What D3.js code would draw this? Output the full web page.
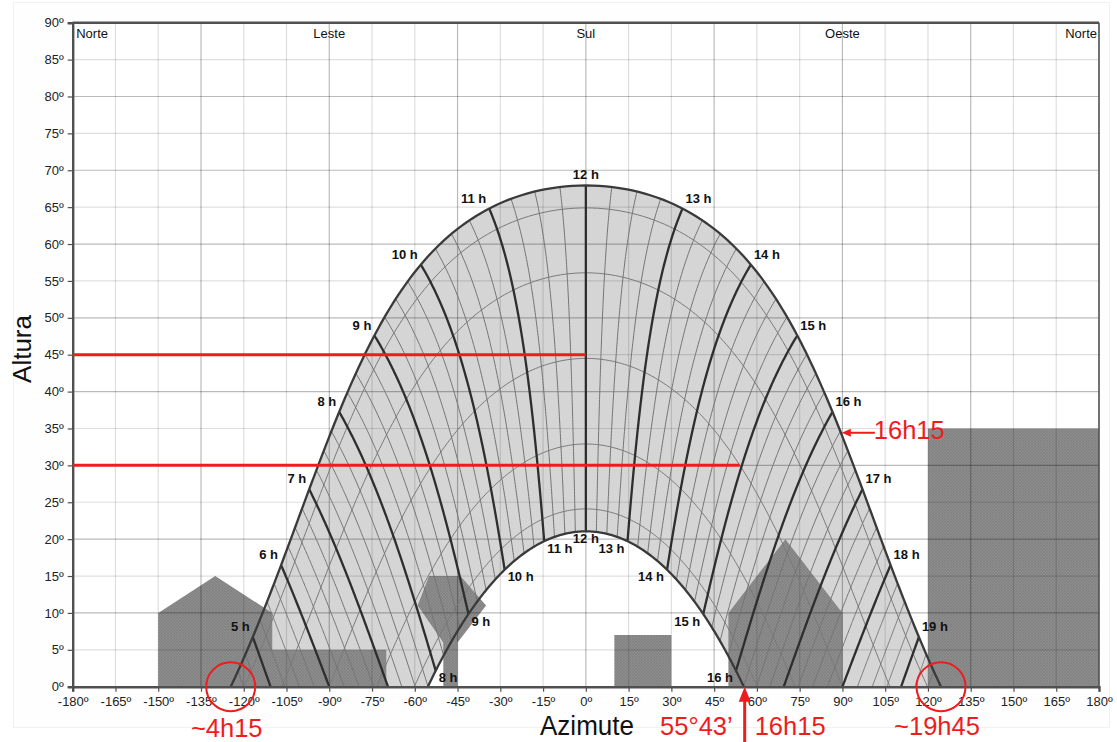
<!DOCTYPE html>
<html>
<head>
<meta charset="utf-8">
<script src="https://cdn.jsdelivr.net/npm/d3@7"></script>
<style>
  body { margin: 0; background: #fff; }
  svg { display: block; font-family: "Liberation Sans", Arial, sans-serif; }
</style>
</head>
<body>
<svg id="chart" width="1117" height="742"></svg>
<script>
// Site latitude, degrees north
const latitude = 45.5;
// Solar declination on the 21st of each month: Jun, May/Jul, Apr/Aug, Mar/Sep, Feb/Oct, Jan/Nov, Dec
const declinations = [23.44, 20.4, 11.6, 0, -11.6, -20.4, -23.44];
const summerDecl = 23.44, winterDecl = -23.44;
// Whole solar hours (heavy lines) and quarter-hour subdivisions (light lines)
const wholeHours = [5, 6, 7, 8, 9, 10, 11, 12, 13, 14, 15, 16, 17, 18, 19];
const quarterBaseHours = [4, 5, 6, 7, 8, 9, 10, 11, 12, 13, 14, 15, 16, 17, 18, 19];
const quarterMinutes = [15, 30, 45];
// Hour labels on the summer (outer) and winter (inner) curves
const outerHourLabels = [5, 6, 7, 8, 9, 10, 11, 12, 13, 14, 15, 16, 17, 18, 19];
const innerHourLabels = [8, 9, 10, 11, 12, 13, 14, 15, 16];
// Axis ticks
const altitudeTicks = [0, 5, 10, 15, 20, 25, 30, 35, 40, 45, 50, 55, 60, 65, 70, 75, 80, 85, 90];
const azimuthTicks = [-180, -165, -150, -135, -120, -105, -90, -75, -60, -45, -30, -15, 0, 15, 30, 45, 60, 75, 90, 105, 120, 135, 150, 165, 180];
// Cardinal directions along the top edge
const directionNames = ["Norte", "Leste", "Sul", "Oeste", "Norte"];
const directionAzimuths = [-180, -90, 0, 90, 180];
// Obstructions on the horizon, [azimuth, altitude] outlines
const houseWest = [[-150, 0], [-150, 10], [-130, 15], [-110, 10], [-110, 5], [-70, 5], [-70, 0]];
const treeEast = [[-55, 15], [-44, 15], [-35, 11], [-45, 6], [-45, 0], [-50, 0], [-50, 6], [-59, 11]];
const lowWall = [[10, 0], [10, 7], [30, 7], [30, 0]];
const houseEast = [[50, 0], [50, 10], [70, 20], [90, 10], [90, 0]];
const blockNorth = [[120, 0], [120, 35], [180, 35], [180, 0]];
const obstacles = [houseWest, treeEast, lowWall, houseEast, blockNorth];
// Reference altitudes marked in red: [altitude, azimuth where the line stops]
const redAltitudes = [45, 30];
const redStopAzimuths = [0, 54];
// Annotated events
const sunsetWinterAzimuth = 55 + 43 / 60;   // 55°43'
const annotatedSummerTime = 16.25;          // 16h15 on the summer curve

const svg = d3.select("#chart");
const x = d3.scaleLinear().domain([-180, 180]).range([72.7, 1099]);
const y = d3.scaleLinear().domain([0, 90]).range([686.7, 22.7]);
const rad = Math.PI / 180, deg = 180 / Math.PI;
const phi = latitude * rad;

// Solar position (azimuth from south, west positive; altitude) for an hour angle and declination
function sunPos(hourAngle, decl) {
  const H = hourAngle * rad, d = decl * rad;
  const sinAlt = Math.sin(phi) * Math.sin(d) + Math.cos(phi) * Math.cos(d) * Math.cos(H);
  const alt = Math.asin(Math.max(-1, Math.min(1, sinAlt))) * deg;
  const az = Math.atan2(Math.sin(H), Math.cos(H) * Math.sin(phi) - Math.tan(d) * Math.cos(phi)) * deg;
  return [az, Math.max(0, alt)];
}
const hourAngle = t => (t - 12) * 15;

// Path of the sun across the sky for one declination
function dayCurve(decl) {
  const H0 = Math.acos(-Math.tan(phi) * Math.tan(decl * rad)) * deg;
  const n = 240, pts = [];
  for (let i = 0; i <= n; i++) pts.push(sunPos(-H0 + 2 * H0 * i / n, decl));
  return pts;
}
// Hour line: same solar time across the year, limited to the sky above the horizon
function hourCurve(t) {
  const H = hourAngle(t);
  const d0 = Math.atan(-Math.cos(H * rad) / Math.tan(phi)) * deg;
  const lo = Math.max(winterDecl, d0);
  if (lo >= summerDecl) return null;
  const n = 120, pts = [];
  for (let i = 0; i <= n; i++) pts.push(sunPos(H, lo + (summerDecl - lo) * i / n));
  return pts;
}

const line = d3.line().x(d => x(d[0])).y(d => y(d[1]));
const red = "#ee1c1c";

// Frame around the figure
svg.append("rect").attr("x", 13.5).attr("y", 2.5).attr("width", 1096).attr("height", 725)
  .attr("fill", "#fefefe").attr("stroke", "#f1f1f1");
svg.append("rect").attr("x", x(-180)).attr("y", y(90)).attr("width", x(180) - x(-180)).attr("height", y(0) - y(90))
  .attr("fill", "#fff");

// Pattern for obstructions
const defs = svg.append("defs");
const pat = defs.append("pattern").attr("id", "hatch").attr("patternUnits", "userSpaceOnUse")
  .attr("width", 3).attr("height", 3);
pat.append("rect").attr("width", 3).attr("height", 3).attr("fill", "#8d8d8d");
pat.append("path").attr("d", "M0,0L3,3M3,0L0,3").attr("stroke", "#7e7e7e").attr("stroke-width", 0.6);

// Band of the sky swept by the sun over the year
const summer = dayCurve(summerDecl), winter = dayCurve(winterDecl);
svg.append("path").attr("d", line(summer.concat(winter.slice().reverse())) + "Z")
  .attr("fill", "#d5d5d5");

// Obstructions
svg.append("g").selectAll("path").data(obstacles).join("path")
  .attr("d", d => line(d) + "Z").attr("fill", "url(#hatch)");

// Grid
const grid = svg.append("g");
grid.selectAll(".h").data(altitudeTicks.filter(a => a > 0 && a < 90)).join("line")
  .attr("x1", x(-180)).attr("x2", x(180)).attr("y1", d => y(d)).attr("y2", d => y(d))
  .attr("stroke", d => d % 10 === 0 ? "rgba(0,0,0,0.27)" : "rgba(0,0,0,0.13)").attr("stroke-width", 1.2);
grid.selectAll(".v").data(azimuthTicks.filter(a => a > -180 && a < 180)).join("line")
  .attr("y1", y(0)).attr("y2", y(90)).attr("x1", d => x(d)).attr("x2", d => x(d))
  .attr("stroke", d => d % 45 === 0 ? "rgba(0,0,0,0.27)" : "rgba(0,0,0,0.13)").attr("stroke-width", 1.2);

// Intermediate day curves
const dayG = svg.append("g").attr("fill", "none");
dayG.selectAll("path").data(declinations.filter(d => Math.abs(d) < summerDecl)).join("path")
  .attr("d", d => line(dayCurve(d))).attr("stroke", "#7a7a7a").attr("stroke-width", 1);

// Quarter-hour lines
const quarterTimes = [];
quarterBaseHours.forEach(h => quarterMinutes.forEach(m => quarterTimes.push(h + m / 60)));
const hourG = svg.append("g").attr("fill", "none");
hourG.selectAll(".q").data(quarterTimes.map(hourCurve).filter(Boolean)).join("path")
  .attr("d", line).attr("stroke", "#747474").attr("stroke-width", 1);
// Whole-hour lines
hourG.selectAll(".w").data(wholeHours.map(hourCurve).filter(Boolean)).join("path")
  .attr("d", line).attr("stroke", "#2e2e2e").attr("stroke-width", 2.3);

// Solstice curves
svg.append("path").attr("d", line(summer)).attr("fill", "none").attr("stroke", "#3a3a3a").attr("stroke-width", 2.3);
svg.append("path").attr("d", line(winter)).attr("fill", "none").attr("stroke", "#3a3a3a").attr("stroke-width", 2.3);

// Hour labels
const labG = svg.append("g").attr("font-size", 13).attr("font-weight", "bold").attr("fill", "#111");
labG.selectAll(".o").data(outerHourLabels).join("text")
  .each(function (t) {
    const p = sunPos(hourAngle(t), summerDecl);
    const px = x(p[0]), py = y(p[1]);
    d3.select(this)
      .attr("x", t < 12 ? px - 3 : t > 12 ? px + 3 : px)
      .attr("y", py - 6)
      .attr("text-anchor", t < 12 ? "end" : t > 12 ? "start" : "middle")
      .text(t + " h");
  });
labG.selectAll(".i").data(innerHourLabels).join("text")
  .each(function (t) {
    const p = sunPos(hourAngle(t), winterDecl);
    const px = x(p[0]), py = y(p[1]);
    d3.select(this)
      .attr("x", t < 12 ? px + 3 : t > 12 ? px - 3 : px)
      .attr("y", py + 11.5)
      .attr("text-anchor", t < 12 ? "start" : t > 12 ? "end" : "middle")
      .text(t + " h");
  });

// Frame lines and axes
const axisG = svg.append("g");
axisG.append("line").attr("x1", x(-180)).attr("x2", x(180)).attr("y1", y(90)).attr("y2", y(90))
  .attr("stroke", "#505050").attr("stroke-width", 2.5);
axisG.append("line").attr("x1", x(180)).attr("x2", x(180)).attr("y1", y(90)).attr("y2", y(0))
  .attr("stroke", "#505050").attr("stroke-width", 1.6);

const yAxis = d3.axisLeft(y).tickValues(altitudeTicks).tickFormat(d => d + "º").tickSize(5).tickPadding(4);
const yg = svg.append("g").attr("transform", `translate(${x(-180)},0)`).call(yAxis);
const xAxis = d3.axisBottom(x).tickValues(azimuthTicks).tickFormat(d => d + "º").tickSize(5).tickPadding(5);
const xg = svg.append("g").attr("transform", `translate(0,${y(0)})`).call(xAxis);
[yg, xg].forEach(g => {
  g.select(".domain").attr("stroke", "#505050").attr("stroke-width", 2.4);
  g.selectAll(".tick line").attr("stroke", "#505050").attr("stroke-width", 1.2);
  g.selectAll(".tick text").attr("fill", "#222").attr("font-size", 13)
    .attr("font-family", "'Liberation Sans', Arial, sans-serif");
});

// Cardinal directions
svg.append("g").attr("font-size", 13).attr("fill", "#111").selectAll("text")
  .data(directionNames).join("text")
  .attr("x", (d, i) => i === 0 ? x(directionAzimuths[i]) + 3.5 : i === 4 ? x(directionAzimuths[i]) - 2 : x(directionAzimuths[i]))
  .attr("y", 38)
  .attr("text-anchor", (d, i) => i === 0 ? "start" : i === 4 ? "end" : "middle")
  .text(d => d);

// Axis titles
svg.append("text").attr("transform", "translate(31,349) rotate(-90)").attr("text-anchor", "middle")
  .attr("font-size", 26).attr("fill", "#111").text("Altura");
svg.append("text").attr("x", 587).attr("y", 735).attr("text-anchor", "middle")
  .attr("font-size", 27).attr("textLength", 94).attr("lengthAdjust", "spacingAndGlyphs")
  .attr("fill", "#111").text("Azimute");

// Reference altitudes
svg.append("g").selectAll("line").data(redAltitudes).join("line")
  .attr("x1", x(-180)).attr("x2", (d, i) => x(redStopAzimuths[i]))
  .attr("y1", d => y(d)).attr("y2", d => y(d))
  .attr("stroke", red).attr("stroke-width", 3);

// Sunrise / sunset on the summer curve
const summerRise = summer[0], summerSet = summer[summer.length - 1];
const ann = svg.append("g").attr("fill", red).attr("font-size", 25.5);
[summerRise, summerSet].forEach(p => {
  svg.append("circle").attr("cx", x(p[0])).attr("cy", y(0)).attr("r", 24.5)
    .attr("fill", "none").attr("stroke", red).attr("stroke-width", 2);
});
ann.append("text").attr("x", x(summerRise[0]) - 4).attr("y", 737).attr("text-anchor", "middle").text("~4h15");
ann.append("text").attr("x", x(summerSet[0]) - 4).attr("y", 735).attr("text-anchor", "middle").text("~19h45");

// Winter sunset azimuth arrow
const ax = x(sunsetWinterAzimuth);
svg.append("line").attr("x1", ax).attr("x2", ax).attr("y1", 742).attr("y2", y(0) + 12)
  .attr("stroke", red).attr("stroke-width", 3);
svg.append("path").attr("d", `M${ax},${y(0)}L${ax - 6},${y(0) + 15}L${ax + 6},${y(0) + 15}Z`).attr("fill", red);
ann.append("text").attr("x", ax - 12).attr("y", 735).attr("text-anchor", "end").text("55°43’");
ann.append("text").attr("x", ax + 10).attr("y", 735).attr("text-anchor", "start").text("16h15");

// 16h15 on the summer curve
const sp = sunPos(hourAngle(annotatedSummerTime), summerDecl);
const tx = x(sp[0]) + 1.5, ty = y(sp[1]) + 1.5;
svg.append("line").attr("x1", tx + 7).attr("x2", tx + 33).attr("y1", ty).attr("y2", ty)
  .attr("stroke", red).attr("stroke-width", 2);
svg.append("path").attr("d", `M${tx},${ty}L${tx + 9},${ty - 4}L${tx + 9},${ty + 4}Z`).attr("fill", red);
ann.append("text").attr("x", tx + 32).attr("y", ty + 6).attr("text-anchor", "start").text("16h15");
</script>
</body>
</html>
